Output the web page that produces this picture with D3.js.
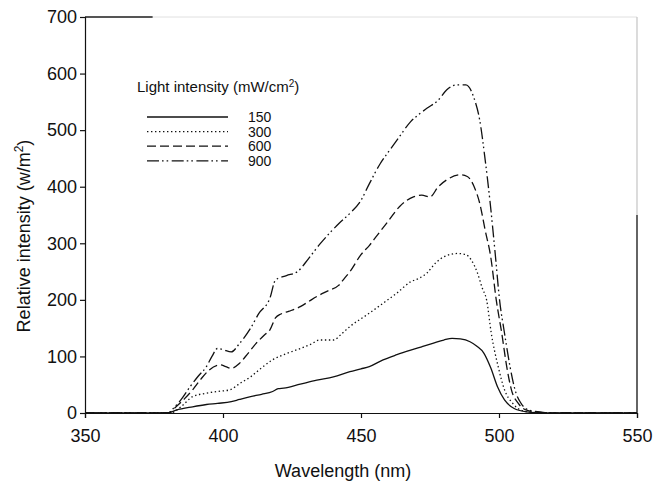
<!DOCTYPE html>
<html>
<head>
<meta charset="utf-8">
<script src="https://cdn.jsdelivr.net/npm/d3@7"></script>
<style>
  body { margin: 0; background: #fff; }
  svg text { font-family: 'Liberation Sans', Arial, sans-serif; fill: #111; }
</style>
</head>
<body>
<div id="vis"></div>
<script>
// wavelength (nm) / relative intensity (w/m2), one array per light intensity
const s150 = [[350,0],[380,0],[383,5],[389,11],[394,15],[398,17],[403,20],[406,24],[410,29],[414,33],[418,38],[420,43],[422,44],[428,51],[434,58],[440,64],[446,73],[450,78],[453,82],[458,94],[463,103],[468,111],[472,117],[476,123],[480,129],[483,132],[486,131],[489.5,126],[492,118],[494.5,106],[497,80],[499.5,46],[502,23],[505.5,8],[510,2],[515,0],[550,0]];
const s300 = [[350,0],[381,0],[385,12],[389,29],[394,35],[398,38],[402.5,41],[406,52],[410,64],[414,80],[418,94],[423,105],[428,114],[432,122],[435,129],[440,129],[443,140],[446,153],[452,173],[458,194],[463,212],[468,232],[471,238],[474,248],[477,265],[480,276],[485,282],[488,280],[490,270],[492,250],[494,220],[495.5,200],[497.2,141],[499.7,82],[502,41],[505,17],[508,5],[513,1],[518,0],[550,0]];
const s600 = [[350,0],[380,0],[383,11],[386,25],[389,41],[392,60],[395,76],[399,85],[401,82],[403,79],[406,88],[409,105],[412,123],[415,138],[417,147],[419,168],[421,175],[424,180],[428,188],[431,197],[434,206],[438,216],[442,226],[444,238],[446,250],[450,280],[453,296],[456,315],[460,340],[464,365],[469,382],[472,385],[475,382],[478,400],[481,412],[486,421],[488.5,418],[491,400],[493,371],[495,323],[497,276],[499,200],[501,141],[502.8,82],[504.5,41],[507,17],[510,5],[515,1],[520,0],[550,0]];
const s900 = [[350,0],[380,0],[382,8],[385,25],[388,46],[391,65],[394,82],[396,100],[398,114],[400,112],[403,108],[406,123],[410,150],[413,176],[417,203],[419,235],[423,243],[427,250],[431,273],[435,298],[439,320],[442,335],[446,353],[450,376],[453,405],[457,441],[460,462],[464,489],[468,515],[471,528],[474,539],[478,553],[481,571],[484.5,580],[488,580],[491,556],[493,518],[495,447],[496.7,376],[498.6,283],[500.2,200],[502,141],[504,82],[505.8,41],[508,17],[511,5],[516,1],[520,0],[550,0]];

const seriesNames = ["150", "300", "600", "900"];
const xTicks = [350, 400, 450, 500, 550];
const yTicks = [0, 100, 200, 300, 400, 500, 600, 700];

const width = 665, height = 485;
const margin = { top: 17, right: 28, bottom: 72, left: 85 };

const x = d3.scaleLinear().domain([350, 550]).range([margin.left, width - margin.right]);
const y = d3.scaleLinear().domain([0, 700]).range([height - margin.bottom, margin.top]);

const dashes = ["none", "1.4,2.6", "9,4", "12,3,1.6,3,1.6,3.5"];
const series = [s150, s300, s600, s900];

const svg = d3.select("#vis").append("svg")
    .attr("width", width)
    .attr("height", height);

// frame leftovers: top line and right line (partly grey in the original)
svg.append("line")
    .attr("x1", x(350)).attr("x2", x(550))
    .attr("y1", y(700)).attr("y2", y(700))
    .attr("stroke", "#e0e0e0").attr("stroke-width", 1);
svg.append("line")
    .attr("x1", x(350)).attr("x2", x(374.5))
    .attr("y1", y(700)).attr("y2", y(700))
    .attr("stroke", "#222").attr("stroke-width", 1.3);
svg.append("line")
    .attr("x1", x(550)).attr("x2", x(550))
    .attr("y1", y(700)).attr("y2", y(350))
    .attr("stroke", "#c4c4c4").attr("stroke-width", 1.2);
svg.append("line")
    .attr("x1", x(550)).attr("x2", x(550))
    .attr("y1", y(350)).attr("y2", y(0))
    .attr("stroke", "#111").attr("stroke-width", 1.3);

const xAxis = g => g
    .attr("transform", `translate(0,${y(0)})`)
    .call(d3.axisBottom(x).tickValues(xTicks).tickSize(5).tickPadding(11))
    .call(g => g.selectAll("text").attr("font-size", 18))
    .call(g => g.selectAll("path, line").attr("stroke", "#111").attr("stroke-width", 1.2));

const yAxis = g => g
    .attr("transform", `translate(${x(350)},0)`)
    .call(d3.axisLeft(y).tickValues(yTicks).tickSize(5).tickPadding(3))
    .call(g => g.selectAll("text").attr("font-size", 18))
    .call(g => g.selectAll("path, line").attr("stroke", "#111").attr("stroke-width", 1.2));

svg.append("g").call(xAxis);
svg.append("g").call(yAxis);

const line = d3.line()
    .x(d => x(d[0]))
    .y(d => y(d[1]))
    .curve(d3.curveMonotoneX);

svg.selectAll(".spec")
    .data(series)
    .join("path")
    .attr("class", "spec")
    .attr("d", line)
    .attr("fill", "none")
    .attr("stroke", "#111")
    .attr("stroke-width", 1.3)
    .attr("stroke-dasharray", (d, i) => dashes[i]);

// axis titles
svg.append("text")
    .attr("x", 343)
    .attr("y", 477)
    .attr("text-anchor", "middle")
    .attr("font-size", 18)
    .text("Wavelength (nm)");

const yt = svg.append("text")
    .attr("transform", "translate(30,236) rotate(-90)")
    .attr("text-anchor", "middle")
    .attr("font-size", 18);
yt.append("tspan").text("Relative intensity (w/m");
yt.append("tspan").attr("font-size", 12).attr("dy", -7).text("2");
yt.append("tspan").attr("dy", 7).text(")");

// legend
const lt = svg.append("text")
    .attr("x", 137)
    .attr("y", 92)
    .attr("font-size", 15);
lt.append("tspan").text("Light intensity (mW/cm");
lt.append("tspan").attr("font-size", 10).attr("dy", -5).text("2");
lt.append("tspan").attr("dy", 5).text(")");

const leg = svg.selectAll(".leg")
    .data(seriesNames)
    .join("g")
    .attr("class", "leg")
    .attr("transform", (d, i) => `translate(0,${117 + i * 14.6})`);

leg.append("line")
    .attr("x1", 147).attr("x2", 228)
    .attr("stroke", "#111")
    .attr("stroke-width", 1.3)
    .attr("stroke-dasharray", (d, i) => dashes[i]);

leg.append("text")
    .attr("x", 248)
    .attr("y", 5)
    .attr("font-size", 14)
    .text(d => d);
</script>
</body>
</html>
